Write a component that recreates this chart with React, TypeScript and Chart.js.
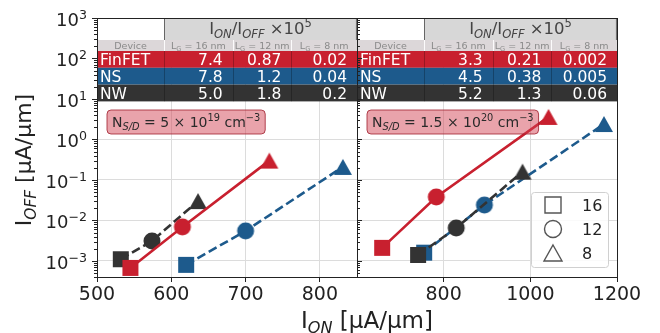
import React, { useEffect, useRef } from 'react';
import { Chart, registerables } from 'chart.js';
Chart.register(...registerables);

const FONT = '"DejaVu Sans", sans-serif';
const RED = '#c8202f';
const BLUE = '#1d5a8c';
const DARK = '#333333';

const gateLengths = ['16', '12', '8'];
const deviceNames = ['FinFET', 'NS', 'NW'];
const deviceColors = [RED, BLUE, DARK];
const deviceDashed = [false, true, true];

// Left panel: N_S/D = 5e19 cm^-3  (order of points: Lg = 16, 12, 8 nm)
const leftFinFETIon = [545, 615, 732];
const leftFinFETIoff = [6.7e-4, 6.9e-3, 0.3];
const leftNSIon = [620, 700, 831];
const leftNSIoff = [8.0e-4, 5.5e-3, 0.21];
const leftNWIon = [532, 574, 636];
const leftNWIoff = [1.1e-3, 3.1e-3, 0.03];

// Right panel: N_S/D = 1.5e20 cm^-3
const rightFinFETIon = [658, 783, 1042];
const rightFinFETIoff = [2.1e-3, 0.038, 3.6];
const rightNSIon = [755, 894, 1170];
const rightNSIoff = [1.6e-3, 0.024, 2.4];
const rightNWIon = [741, 829, 982];
const rightNWIoff = [1.4e-3, 6.5e-3, 0.16];

// Ion/Ioff x 1e5 tables
const leftRatios = [
  ['7.4', '0.87', '0.02'],
  ['7.8', '1.2', '0.04'],
  ['5.0', '1.8', '0.2'],
];
const rightRatios = [
  ['3.3', '0.21', '0.002'],
  ['4.5', '0.38', '0.005'],
  ['5.2', '1.3', '0.06'],
];
const leftDopingMantissa = '5';
const leftDopingExp = '19';
const rightDopingMantissa = '1.5';
const rightDopingExp = '20';

const leftXRange = [500, 850];
const rightXRange = [600, 1200];
const leftXTicks = [500, 600, 700, 800];
const rightXTicks = [800, 1000, 1200];
const yRange = [4e-4, 1000];
const yDecades = [1e-3, 1e-2, 1e-1, 1, 10, 100, 1000];
const yDecadeExponents = ['\u22123', '\u22122', '\u22121', '0', '1', '2', '3'];
const minorMultipliers = [1, 2, 3, 4, 5, 6, 7, 8, 9];

function buildYTicks() {
  const out: number[] = [];
  for (let e = -4; e <= 3; e++) {
    for (const m of minorMultipliers) {
      const v = parseFloat((m * Math.pow(10, e)).toPrecision(6));
      if (v >= yRange[0] - 1e-12 && v <= yRange[1] + 1e-9) out.push(v);
    }
  }
  return out;
}
const yTickValues = buildYTicks();
const isDecade = (v: number) => yDecades.some((d) => Math.abs(v / d - 1) < 1e-6);

type Part = { text: string; kind?: 'sub' | 'sup'; italic?: boolean };

function richWidth(ctx: CanvasRenderingContext2D, parts: Part[], size: number) {
  let w = 0;
  for (const p of parts) {
    ctx.font = `${p.italic ? 'italic ' : ''}${p.kind ? size * 0.7 : size}px ${FONT}`;
    w += ctx.measureText(p.text).width;
  }
  return w;
}

function drawRich(
  ctx: CanvasRenderingContext2D,
  parts: Part[],
  x: number,
  y: number,
  size: number,
  color: string,
  align: 'left' | 'center' | 'right'
) {
  const total = richWidth(ctx, parts, size);
  let cx = align === 'left' ? x : align === 'center' ? x - total / 2 : x - total;
  ctx.save();
  ctx.fillStyle = color;
  ctx.textAlign = 'left';
  ctx.textBaseline = 'alphabetic';
  for (const p of parts) {
    ctx.font = `${p.italic ? 'italic ' : ''}${p.kind ? size * 0.7 : size}px ${FONT}`;
    const dy = p.kind === 'sub' ? size * 0.22 : p.kind === 'sup' ? -size * 0.4 : 0;
    ctx.fillText(p.text, cx, y + dy);
    cx += ctx.measureText(p.text).width;
  }
  ctx.restore();
  return total;
}

function makeMarker(shape: string, color: string, filled: boolean) {
  const c = document.createElement('canvas');
  const S = 22;
  c.width = S;
  c.height = S;
  const g = c.getContext('2d')!;
  const m = S / 2;
  g.fillStyle = color;
  g.strokeStyle = color;
  g.lineWidth = 1.4;
  g.beginPath();
  if (shape === 'square') {
    g.rect(m - 8, m - 8, 16, 16);
  } else if (shape === 'circle') {
    g.arc(m, m, 8.5, 0, Math.PI * 2);
  } else {
    g.moveTo(m, m - 8);
    g.lineTo(m + 9, m + 8);
    g.lineTo(m - 9, m + 8);
    g.closePath();
  }
  if (filled) g.fill();
  else g.stroke();
  return c;
}

const markerShapes = ['square', 'circle', 'triangle'];

function buildDatasets(ions: number[][], ioffs: number[][]) {
  const drawOrder = [0, 2, 1]; // FinFET on top, then NW, then NS
  return drawOrder.map((d) => ({
    label: deviceNames[d],
    data: ions[d].map((x, i) => ({ x, y: ioffs[d][i] })),
    showLine: true,
    borderColor: deviceColors[d],
    backgroundColor: deviceColors[d],
    borderWidth: 2.6,
    borderDash: deviceDashed[d] ? [9, 4] : [],
    pointStyle: markerShapes.map((s) => makeMarker(s, deviceColors[d], true)),
    pointRadius: 9,
    pointHoverRadius: 9,
    tension: 0,
    fill: false,
  }));
}

function drawTable(ctx: CanvasRenderingContext2D, ca: any, ratios: string[][]) {
  const colFrac = [0.258, 0.264, 0.226, 0.252];
  const rowH = [22, 11, 16.8, 16.8, 16.8];
  const W = ca.right - ca.left;
  const xs = [ca.left];
  colFrac.forEach((f) => xs.push(xs[xs.length - 1] + f * W));
  xs[4] = ca.right;
  const ys = [ca.top];
  rowH.forEach((h) => ys.push(ys[ys.length - 1] + h));

  ctx.save();
  ctx.fillStyle = '#ffffff';
  ctx.fillRect(xs[0], ys[0], xs[1] - xs[0], rowH[0]);
  ctx.fillStyle = '#d7d7d7';
  ctx.fillRect(xs[1], ys[0], xs[4] - xs[1], rowH[0]);
  ctx.strokeStyle = '#666';
  ctx.lineWidth = 1;
  ctx.strokeRect(Math.round(xs[1]) + 0.5, ys[0] + 0.5, xs[4] - xs[1] - 1, rowH[0]);
  drawRich(
    ctx,
    [
      { text: 'I' },
      { text: 'ON', kind: 'sub', italic: true },
      { text: '/I' },
      { text: 'OFF', kind: 'sub', italic: true },
      { text: ' \u00d710' },
      { text: '5', kind: 'sup' },
    ],
    (xs[1] + xs[4]) / 2,
    ys[0] + 16,
    16.5,
    '#444',
    'center'
  );
  ctx.fillStyle = '#dcd7d9';
  ctx.fillRect(xs[0], ys[1], xs[4] - xs[0], rowH[1]);
  ctx.strokeStyle = 'rgba(255,255,255,0.9)';
  for (let c = 1; c < 4; c++) {
    ctx.beginPath();
    ctx.moveTo(Math.round(xs[c]) + 0.5, ys[1]);
    ctx.lineTo(Math.round(xs[c]) + 0.5, ys[2]);
    ctx.stroke();
  }
  drawRich(ctx, [{ text: 'Device' }], (xs[0] + xs[1]) / 2, ys[1] + 9, 9.5, '#8a8a8a', 'center');
  for (let c = 0; c < 3; c++) {
    drawRich(
      ctx,
      [{ text: 'L' }, { text: 'G', kind: 'sub' }, { text: ' = ' + gateLengths[c] + ' nm' }],
      (xs[c + 1] + xs[c + 2]) / 2,
      ys[1] + 9,
      9.5,
      '#8a8a8a',
      'center'
    );
  }
  for (let r = 0; r < 3; r++) {
    const y0 = ys[2 + r];
    ctx.fillStyle = deviceColors[r];
    ctx.fillRect(xs[0], y0, xs[4] - xs[0], rowH[2 + r]);
    ctx.strokeStyle = 'rgba(0,0,0,0.25)';
    for (let c = 1; c < 4; c++) {
      ctx.beginPath();
      ctx.moveTo(Math.round(xs[c]) + 0.5, y0);
      ctx.lineTo(Math.round(xs[c]) + 0.5, y0 + rowH[2 + r]);
      ctx.stroke();
    }
    const base = y0 + rowH[2 + r] / 2 + 5.6;
    drawRich(ctx, [{ text: deviceNames[r] }], xs[0] + 3, base, 15.5, '#ffffff', 'left');
    for (let c = 0; c < 3; c++) {
      drawRich(ctx, [{ text: ratios[r][c] }], xs[c + 2] - 10, base, 15.5, '#ffffff', 'right');
    }
  }
  ctx.restore();
}

function drawDoping(ctx: CanvasRenderingContext2D, ca: any, mant: string, exp: string) {
  const parts: Part[] = [
    { text: 'N' },
    { text: 'S/D', kind: 'sub', italic: true },
    { text: ' = ' + mant + ' \u00d7 10' },
    { text: exp, kind: 'sup' },
    { text: ' cm' },
    { text: '\u22123', kind: 'sup' },
  ];
  const size = 14;
  const w = richWidth(ctx, parts, size);
  const x0 = ca.left + 10;
  const y0 = ca.top + 92;
  const bw = w + 10;
  const bh = 24;
  ctx.save();
  ctx.beginPath();
  ctx.roundRect(x0, y0, bw, bh, 4);
  ctx.fillStyle = 'rgba(208,62,80,0.48)';
  ctx.fill();
  ctx.strokeStyle = 'rgba(160,30,45,0.8)';
  ctx.lineWidth = 1;
  ctx.stroke();
  ctx.restore();
  drawRich(ctx, parts, x0 + 5, y0 + 17, size, '#2a2a2a', 'left');
}

function drawYTicks(ctx: CanvasRenderingContext2D, chart: any, inward: boolean) {
  const ys = chart.scales.y;
  const x = chart.chartArea.left;
  ctx.save();
  ctx.strokeStyle = '#222';
  ctx.lineWidth = 1;
  for (const t of ys.ticks) {
    const py = Math.round(ys.getPixelForValue(t.value)) + 0.5;
    const len = isDecade(t.value) ? 5 : 3;
    ctx.beginPath();
    ctx.moveTo(x, py);
    ctx.lineTo(inward ? x + len : x - len, py);
    ctx.stroke();
  }
  ctx.restore();
}

function drawFrame(ctx: CanvasRenderingContext2D, ca: any) {
  ctx.save();
  ctx.strokeStyle = '#222';
  ctx.lineWidth = 1;
  ctx.strokeRect(Math.round(ca.left) + 0.5, Math.round(ca.top) + 0.5, Math.round(ca.right - ca.left), Math.round(ca.bottom - ca.top));
  ctx.restore();
}

function drawLegend(ctx: CanvasRenderingContext2D, ca: any) {
  const bw = 77;
  const bh = 75;
  const x0 = ca.right - 9 - bw;
  const y0 = ca.bottom - 10 - bh;
  ctx.save();
  ctx.beginPath();
  ctx.roundRect(x0 + 0.5, y0 + 0.5, bw, bh, 3);
  ctx.fillStyle = 'rgba(255,255,255,0.85)';
  ctx.fill();
  ctx.strokeStyle = '#d0d0d0';
  ctx.stroke();
  markerShapes.forEach((s, i) => {
    const cy = y0 + 13 + i * 24;
    const img = makeMarker(s, '#555555', false);
    ctx.drawImage(img, x0 + 22 - img.width / 2, cy - img.height / 2);
    drawRich(ctx, [{ text: gateLengths[i] }], x0 + 51, cy + 6, 16, '#222', 'left');
  });
  ctx.restore();
}

function makePlugin(side: 'left' | 'right') {
  return {
    id: 'panelDecor' + side,
    afterDatasetsDraw(chart: any) {
      const ctx = chart.ctx;
      const ca = chart.chartArea;
      if (side === 'left') {
        drawTable(ctx, ca, leftRatios);
        drawDoping(ctx, ca, leftDopingMantissa, leftDopingExp);
      } else {
        drawTable(ctx, ca, rightRatios);
        drawDoping(ctx, ca, rightDopingMantissa, rightDopingExp);
        drawLegend(ctx, ca);
      }
    },
    afterDraw(chart: any) {
      const ctx = chart.ctx;
      const ca = chart.chartArea;
      drawFrame(ctx, ca);
      drawYTicks(ctx, chart, side === 'right');
      if (side === 'left') {
        const ys = chart.scales.y;
        yDecades.forEach((d, i) => {
          const py = ys.getPixelForValue(d);
          drawRich(ctx, [{ text: '10' }, { text: yDecadeExponents[i], kind: 'sup' }], ca.left - 10, py + 8, 18, '#222', 'right');
        });
        ctx.save();
        ctx.translate(31, 160);
        ctx.rotate(-Math.PI / 2);
        drawRich(
          ctx,
          [{ text: 'I' }, { text: 'OFF', kind: 'sub', italic: true }, { text: ' [\u03bcA/\u03bcm]' }],
          0,
          0,
          22,
          '#222',
          'center'
        );
        ctx.restore();
        drawRich(
          ctx,
          [{ text: 'I' }, { text: 'ON', kind: 'sub', italic: true }, { text: ' [\u03bcA/\u03bcm]' }],
          367,
          328,
          23,
          '#222',
          'center'
        );
      }
    },
  };
}

function makeConfig(side: 'left' | 'right') {
  const isLeft = side === 'left';
  const ions = isLeft ? [leftFinFETIon, leftNSIon, leftNWIon] : [rightFinFETIon, rightNSIon, rightNWIon];
  const ioffs = isLeft ? [leftFinFETIoff, leftNSIoff, leftNWIoff] : [rightFinFETIoff, rightNSIoff, rightNWIoff];
  const xr = isLeft ? leftXRange : rightXRange;
  const xt = isLeft ? leftXTicks : rightXTicks;
  return {
    type: 'scatter' as const,
    data: { datasets: buildDatasets(ions, ioffs) },
    options: {
      animation: false as const,
      responsive: false,
      events: [],
      layout: { padding: isLeft ? { left: 0, right: 303, top: 18, bottom: 0 } : { left: 300, right: 43, top: 18, bottom: 0 } },
      plugins: { legend: { display: false }, tooltip: { enabled: false } },
      scales: {
        x: {
          type: 'linear' as const,
          min: xr[0],
          max: xr[1],
          afterBuildTicks: (s: any) => {
            s.ticks = xt.map((v) => ({ value: v }));
          },
          afterFit: (s: any) => {
            s.height = 56;
          },
          ticks: {
            autoSkip: false,
            maxRotation: 0,
            padding: 2,
            color: '#222',
            font: { family: FONT, size: 19 },
            callback: (v: any) => String(v),
          },
          grid: { color: '#dcdcdc', lineWidth: 1, tickColor: '#222', tickLength: 5 },
          border: { color: '#222', width: 1 },
        },
        y: {
          type: 'logarithmic' as const,
          min: yRange[0],
          max: yRange[1],
          afterBuildTicks: (s: any) => {
            s.ticks = yTickValues.map((v) => ({ value: v }));
          },
          afterFit: (s: any) => {
            s.width = isLeft ? 97 : 57;
          },
          ticks: { display: false },
          grid: {
            color: (c: any) => (c.tick && isDecade(c.tick.value) ? '#dcdcdc' : 'rgba(0,0,0,0)'),
            lineWidth: 1,
            drawTicks: false,
          },
          border: { color: '#222', width: 1 },
        },
      },
    },
    plugins: [makePlugin(side)],
  };
}

export default function App() {
  const leftRef = useRef<HTMLCanvasElement>(null);
  const rightRef = useRef<HTMLCanvasElement>(null);
  useEffect(() => {
    document.body.style.margin = '0';
    const a = new Chart(leftRef.current!, makeConfig('left') as any);
    const b = new Chart(rightRef.current!, makeConfig('right') as any);
    return () => {
      a.destroy();
      b.destroy();
    };
  }, []);
  return (
    <div style={{ position: 'relative', width: 660, height: 333, background: '#fff' }}>
      <canvas ref={leftRef} width={660} height={333} style={{ position: 'absolute', left: 0, top: 0, width: 660, height: 333 }} />
      <canvas ref={rightRef} width={660} height={333} style={{ position: 'absolute', left: 0, top: 0, width: 660, height: 333 }} />
    </div>
  );
}
